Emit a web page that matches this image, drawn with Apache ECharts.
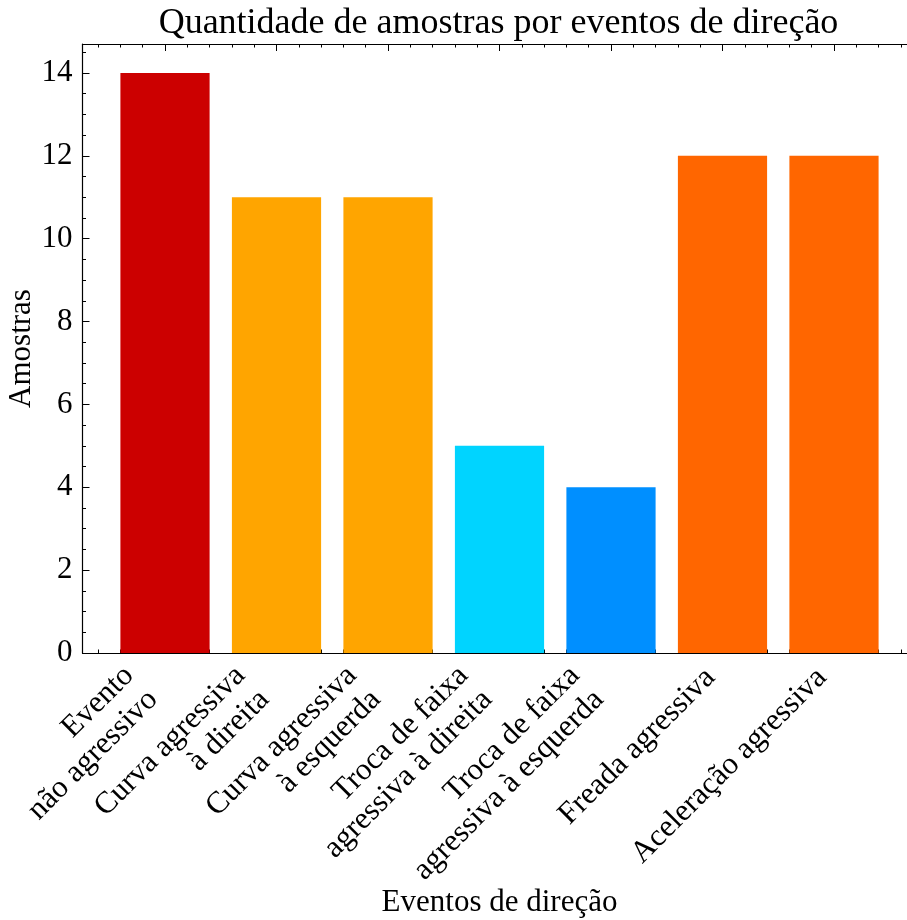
<!DOCTYPE html>
<html>
<head>
<meta charset="utf-8">
<script src="https://cdn.jsdelivr.net/npm/echarts@6/dist/echarts.min.js"></script>
<style>
  html, body { margin: 0; padding: 0; background: #fff; overflow: hidden; }
  /* the canvas runs a little past the right edge of the window, so the
     right side of the axes box sits outside the visible area */
  #chart { width: 930px; height: 920px; }
</style>
</head>
<body>
<div id="chart"></div>
<script>
// Samples per driving event
const categories = [
  'Evento\nnão agressivo',
  'Curva agressiva\nà direita',
  'Curva agressiva\nà esquerda',
  'Troca de faixa\nagressiva à direita',
  'Troca de faixa\nagressiva à esquerda',
  'Freada agressiva',
  'Aceleração agressiva'
];
const samples = [14, 11, 11, 5, 4, 12, 12];
const barColors = ['#cc0000', '#ffa500', '#ffa500', '#00d4ff', '#008fff', '#ff6600', '#ff6600'];

const yTicks = [0, 2, 4, 6, 8, 10, 12, 14];
const xTicks = [0, 1, 2, 3, 4, 5, 6];
const xLimits = [-0.74, 6.74];
const yLimits = [0, 14.7];

// minor ticks: 0.5 on y, 0.2 on x
const yMinorTicks = [];
for (let k = 0; k <= 29; k++) yMinorTicks.push(k * 0.5);
const xMinorTicks = [];
for (let k = -3; k <= 33; k++) xMinorTicks.push(+(k * 0.2).toFixed(2));

const FONT = '"Liberation Serif", "DejaVu Serif", serif';

// plot frame
const frame = { left: 82.5, top: 44, width: 834, height: 609 };
const unit = frame.width / (xLimits[1] - xLimits[0]);
// inner band grid: one category band per unit, from -0.5 to 6.5
const band = {
  left: frame.left + (-0.5 - xLimits[0]) * unit,
  width: categories.length * unit
};

function gridBox(left, width) {
  return {
    outerBoundsMode: 'none',
    left: left, width: width,
    top: frame.top, height: frame.height
  };
}

const twoLine = categories.map(c => c.indexOf('\n') >= 0);

function frameAxisX(grid, pos, values, len, showLine, extra) {
  return Object.assign({
    type: 'value', gridIndex: grid, position: pos,
    min: xLimits[0], max: xLimits[1],
    axisLine: { show: showLine, onZero: false, lineStyle: { color: '#000', width: 1.2 } },
    axisTick: { show: true, inside: true, length: len, customValues: values, lineStyle: { color: '#000', width: 1 } },
    axisLabel: { show: false },
    splitLine: { show: false }
  }, extra || {});
}
function frameAxisY(grid, values, len, showLine, extra) {
  return Object.assign({
    type: 'value', gridIndex: grid, position: 'left',
    min: yLimits[0], max: yLimits[1],
    axisLine: { show: showLine, onZero: false, lineStyle: { color: '#000', width: 1.2 } },
    axisTick: { show: true, inside: true, length: len, customValues: values, lineStyle: { color: '#000', width: 1 } },
    axisLabel: { show: false },
    splitLine: { show: false }
  }, extra || {});
}
function labelAxis(grid, isTwo, margin) {
  return {
    type: 'category', gridIndex: grid, position: 'bottom',
    data: categories, boundaryGap: true,
    axisLine: { show: false }, axisTick: { show: false }, splitLine: { show: false },
    axisLabel: {
      show: true, interval: 0, rotate: 45, margin: margin,
      align: 'right', verticalAlign: 'bottom',
      fontFamily: FONT, fontSize: 31, lineHeight: 34, color: '#000',
      formatter: (v, i) => (twoLine[i] === isTwo ? v : '')
    }
  };
}
function hiddenY(grid) {
  return { type: 'value', gridIndex: grid, min: yLimits[0], max: yLimits[1], show: false };
}

const option = {
  animation: false,
  backgroundColor: '#fff',
  title: {
    text: 'Quantidade de amostras por eventos de direção',
    left: frame.left + frame.width / 2 - 6, textAlign: 'center', top: 1,
    textStyle: { fontFamily: FONT, fontSize: 36, fontWeight: 'normal', color: '#000' }
  },
  grid: [
    gridBox(frame.left, frame.width),
    gridBox(frame.left, frame.width),
    gridBox(band.left, band.width),
    gridBox(band.left, band.width)
  ],
  xAxis: [
    frameAxisX(0, 'bottom', xTicks, 7, true, {
      name: 'Eventos de direção', nameLocation: 'middle', nameGap: 234,
      nameMoveOverlap: false,
      nameTextStyle: { fontFamily: FONT, fontSize: 31, color: '#000' }
    }),
    frameAxisX(0, 'top', xTicks, 7, true),
    frameAxisX(1, 'bottom', xMinorTicks, 3.5, false),
    frameAxisX(1, 'top', xMinorTicks, 3.5, false),
    labelAxis(2, true, 54),
    labelAxis(3, false, 32)
  ],
  yAxis: [
    frameAxisY(0, yTicks, 7, true, {
      axisLabel: {
        show: true, customValues: yTicks, margin: 10,
        fontFamily: FONT, fontSize: 31, color: '#000'
      },
      name: 'Amostras', nameLocation: 'middle', nameGap: 45,
      nameMoveOverlap: false,
      nameTextStyle: { fontFamily: FONT, fontSize: 31, color: '#000' }
    }),
    frameAxisY(1, yMinorTicks, 3.5, false),
    hiddenY(2),
    hiddenY(3)
  ],
  series: [{
    type: 'bar',
    xAxisIndex: 4, yAxisIndex: 2,
    barWidth: '80%',
    data: samples.map((v, i) => ({ value: v, itemStyle: { color: barColors[i] } }))
  }]
};

const chart = echarts.init(document.getElementById('chart'), null, { renderer: 'canvas' });
chart.setOption(option);
</script>
</body>
</html>
